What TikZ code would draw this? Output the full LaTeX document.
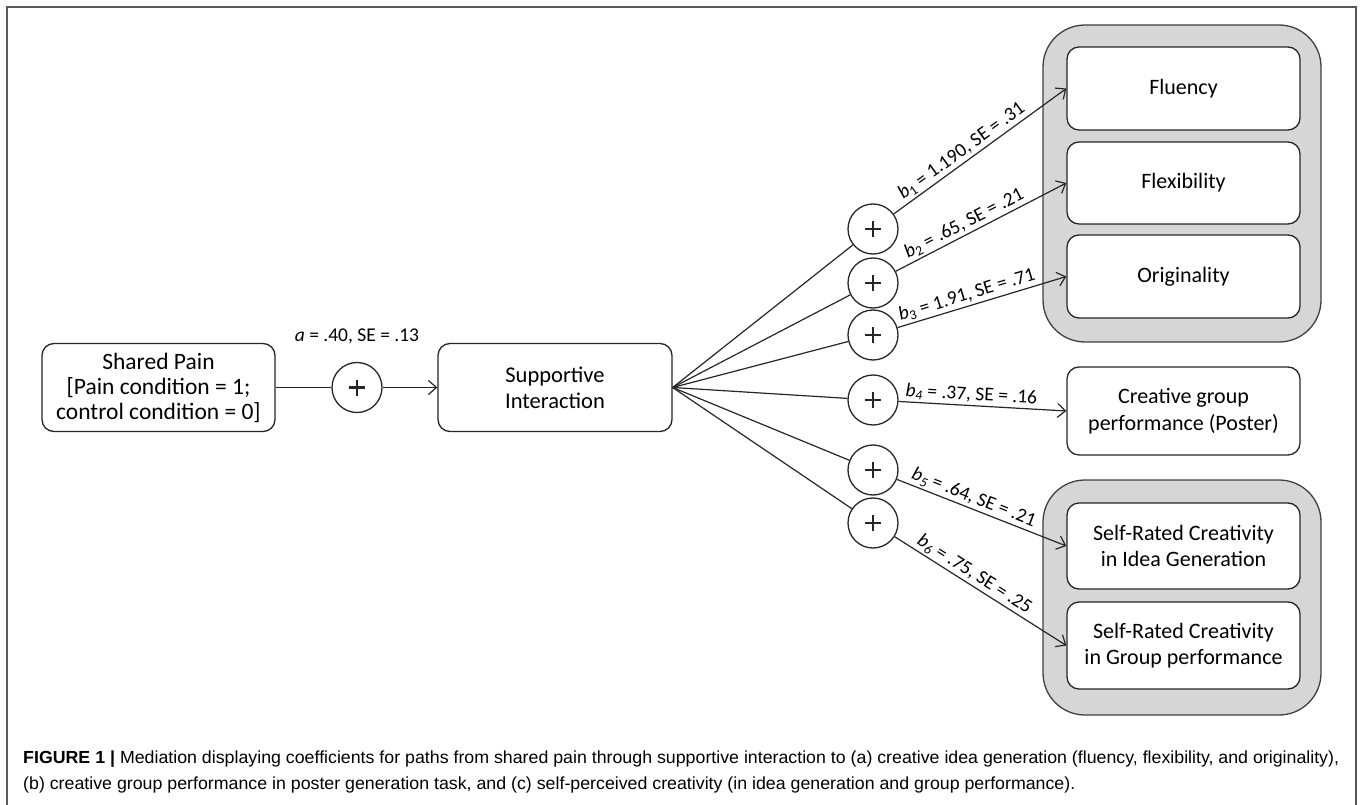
\documentclass[tikz,border=0pt]{standalone}
\usepackage{fontspec}
\setmainfont{Carlito}
\newfontfamily\capfont{Liberation Sans}
\usetikzlibrary{arrows.meta}
\newsavebox\caponebox
\newsavebox\captwobox
\begin{document}
\sbox\caponebox{\capfont\fontsize{17.5}{20}\selectfont\textbf{FIGURE 1 |} Mediation displaying coefficients for paths from shared pain through supportive interaction to (a) creative idea generation (fluency, flexibility, and originality),}%
\sbox\captwobox{\capfont\fontsize{17.5}{20}\selectfont (b) creative group performance in poster generation task, and (c) self-perceived creativity (in idea generation and group performance).}%
\pgfmathsetmacro\capscale{1316/\wd\caponebox}%
\begin{tikzpicture}[x=1pt,y=-1pt,
  box/.style={draw=black!85, line width=1.3pt, rounded corners=12pt, fill=white, align=center,
    font=\fontsize{22}{26}\selectfont, inner sep=0pt, minimum width=233pt},
  grp/.style={draw=black!75, line width=1.3pt, rounded corners=42pt, fill=black!16, inner sep=0pt},
  plus/.style={draw=black!85, line width=1.3pt, circle, minimum size=50pt, fill=white, inner sep=0pt,
    path picture={
      \draw[line width=2.5pt] ([xshift=-8pt]path picture bounding box.center) -- ([xshift=8pt]path picture bounding box.center);
      \draw[line width=2.5pt] ([yshift=-8pt]path picture bounding box.center) -- ([yshift=8pt]path picture bounding box.center);}},
  conn/.style={draw=black!85, line width=1.2pt},
  arr/.style={conn, -{Straight Barb[length=8pt,width=14pt,line width=1.2pt]}},
  coef/.style={font=\fontsize{19.5}{22}\selectfont, inner sep=2pt, pos=0.43, above, sloped}
]
\useasboundingbox (0,0) rectangle (1360,805);
\fill[white] (0,0) rectangle (1360,805);
% outer frame
\draw[black!65, line width=1.5pt] (7,805) -- (7,7) -- (1356,7) -- (1356,805);

% grey groups
\node[grp, minimum width=278pt, minimum height=317pt] (g1) at (1182,183.5) {};
\node[grp, minimum width=278pt, minimum height=235pt] (g2) at (1182,597.5) {};

% boxes
\node[box, minimum height=88pt, font=\fontsize{23.5}{25}\selectfont] (sp) at (158.5,387.5) {Shared Pain\\{}[Pain condition = 1;\\control condition = 0]};
\node[box, minimum width=234pt, minimum height=88pt, font=\fontsize{22.5}{26}\selectfont] (si) at (555,387.5) {Supportive\\Interaction};
\node[box, minimum height=83pt] (flu) at (1183.5,88.5) {Fluency};
\node[box, minimum height=82pt] (flx) at (1183.5,183) {Flexibility};
\node[box, minimum height=83pt] (ori) at (1183.5,276.5) {Originality};
\node[box, minimum height=88pt, font=\fontsize{22}{27}\selectfont] (cgp) at (1183.5,411) {Creative group\\performance (Poster)};
\node[box, minimum height=86pt] (sri) at (1183.5,546) {Self-Rated Creativity\\in Idea Generation};
\node[box, minimum height=87pt] (srg) at (1183.5,645.5) {Self-Rated Creativity\\in Group performance};

% plus circles
\node[plus] (c0) at (357,387.5) {};
\node[plus] (c1) at (873,229) {};
\node[plus] (c2) at (873,283) {};
\node[plus] (c3) at (873,335) {};
\node[plus] (c4) at (873,400) {};
\node[plus] (c5) at (873,470) {};
\node[plus] (c6) at (873,523) {};

% label a
\node[font=\fontsize{19.5}{22}\selectfont, inner sep=0pt] (la) at (357,336) {\textit{a} = .40, SE = .13};

% connectors
\draw[conn] (sp.east) -- (c0.west);
\draw[arr] (c0.east) -- (si.west);
\foreach \c in {c1,c2,c3,c4,c5,c6} { \draw[conn] (si.east) -- (\c); }

\draw[arr] (c1) -- (flu.west) node[coef] {\textit{b}\textsubscript{1} = 1.190, SE = .31};
\draw[arr] (c2) -- (flx.west) node[coef] {\textit{b}\textsubscript{2} = .65, SE = .21};
\draw[arr] (c3) -- (ori.west) node[coef] {\textit{b}\textsubscript{3} = 1.91, SE = .71};
\draw[arr] (c4) -- (cgp.west) node[coef] {\textit{b}\textsubscript{\textit{4}} = .37, SE = .16};
\draw[arr] (c5) -- (sri.west) node[coef] {\textit{b}\textsubscript{\textit{5}} = .64, SE = .21};
\draw[arr] (c6) -- (srg.west) node[coef] {\textit{b}\textsubscript{\textit{6}} = .75, SE = .25};

% caption
\node[anchor=base west, inner sep=0pt, text=black!85] (cap1) at (23,763) {\scalebox{\capscale}[1]{\usebox\caponebox}};
\node[anchor=base west, inner sep=0pt, text=black!85] (cap2) at (23,789) {\scalebox{\capscale}[1]{\usebox\captwobox}};
\end{tikzpicture}
\end{document}
